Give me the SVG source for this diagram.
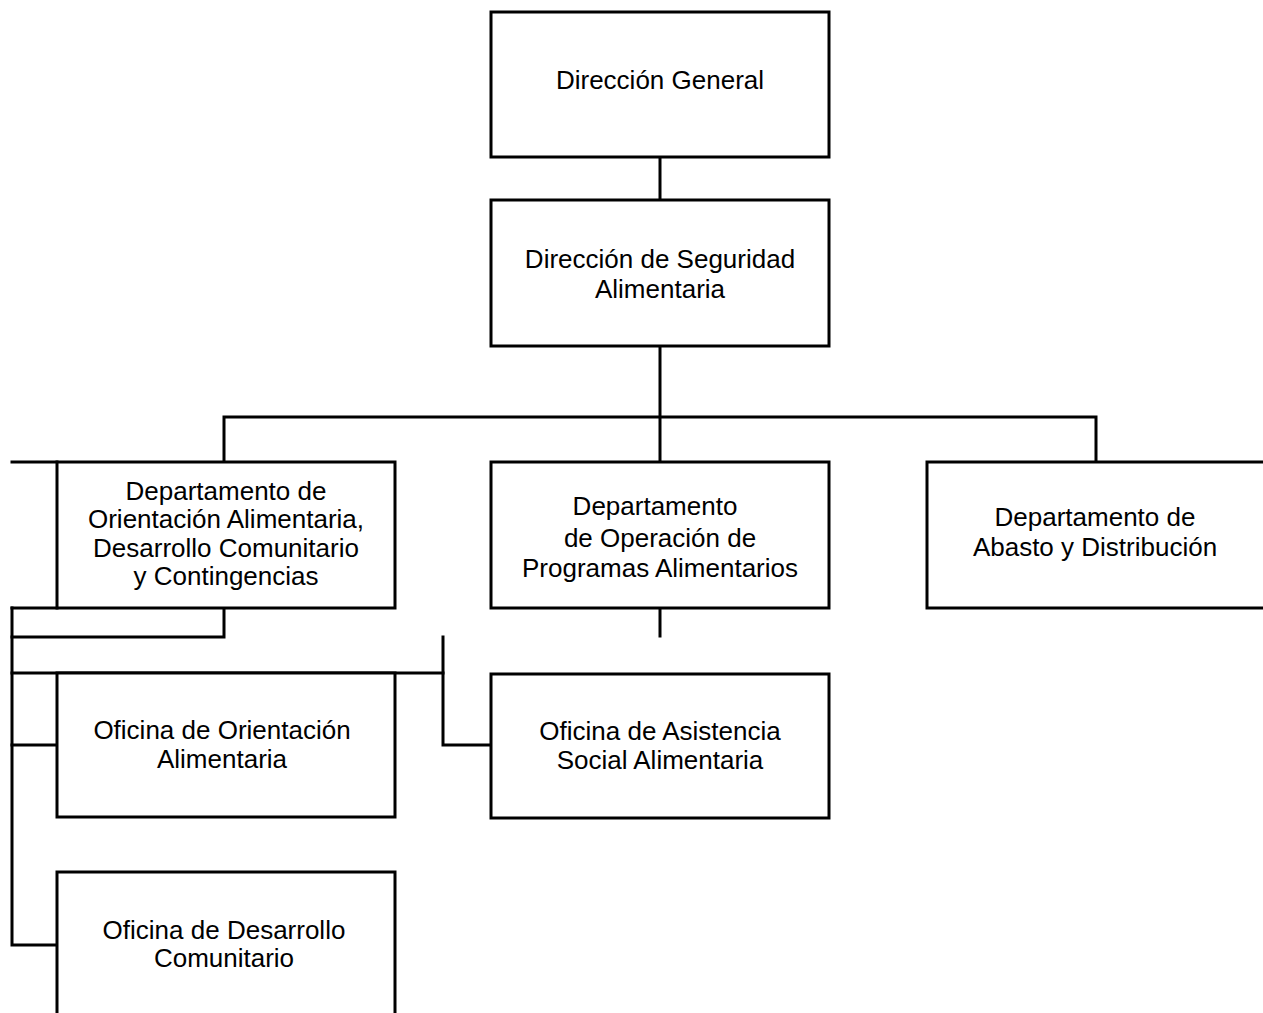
<svg xmlns="http://www.w3.org/2000/svg" width="1263" height="1013" viewBox="0 0 1263 1013">
<style>
.box{fill:#fff;stroke:#000;stroke-width:3}
.c{fill:none;stroke:#000;stroke-width:3;stroke-linejoin:miter;stroke-linecap:square}
text{font-family:"Liberation Sans",Arial,sans-serif;font-size:26px;fill:#000;text-anchor:middle}
</style>
<rect width="1263" height="1013" fill="#fff"/>
<g id="connectors">
<path class="c" d="M660 157V200"/>
<path class="c" d="M660 346V462"/>
<path class="c" d="M224 462V417H1096V462"/>
<path class="c" d="M12 462H57"/>
<path class="c" d="M12 608H57"/>
<path class="c" d="M12 608V945H57"/>
<path class="c" d="M224 608V637H12"/>
<path class="c" d="M12 673H443"/>
<path class="c" d="M443 637V745H491"/>
<path class="c" d="M12 745H57"/>
<path class="c" d="M660 608V636"/>
</g>
<g id="n1"><rect class="box" x="491" y="12" width="338" height="145"/>
<text x="660" y="89">Dirección General</text></g>
<g id="n2"><rect class="box" x="491" y="200" width="338" height="146"/>
<text x="660" y="268">Dirección de Seguridad</text><text x="660" y="298">Alimentaria</text></g>
<g id="n3"><rect class="box" x="57" y="462" width="338" height="146"/>
<text x="226" y="500">Departamento de</text><text x="226" y="528">Orientación Alimentaria,</text><text x="226" y="557">Desarrollo Comunitario</text><text x="226" y="585">y Contingencias</text></g>
<g id="n4"><rect class="box" x="491" y="462" width="338" height="146"/>
<text x="655" y="515">Departamento</text><text x="660" y="547">de Operación de</text><text x="660" y="577">Programas Alimentarios</text></g>
<g id="n5"><rect class="box" x="927" y="462" width="345" height="146"/>
<text x="1095" y="526">Departamento de</text><text x="1095" y="556">Abasto y Distribución</text></g>
<g id="n6"><rect class="box" x="57" y="673" width="338" height="144"/>
<text x="222" y="739">Oficina de Orientación</text><text x="222" y="768">Alimentaria</text></g>
<g id="n7"><rect class="box" x="491" y="674" width="338" height="144"/>
<text x="660" y="740">Oficina de Asistencia</text><text x="660" y="769">Social Alimentaria</text></g>
<g id="n8"><rect class="box" x="57" y="872" width="338" height="160"/>
<text x="224" y="939">Oficina de Desarrollo</text><text x="224" y="967">Comunitario</text></g>
</svg>
